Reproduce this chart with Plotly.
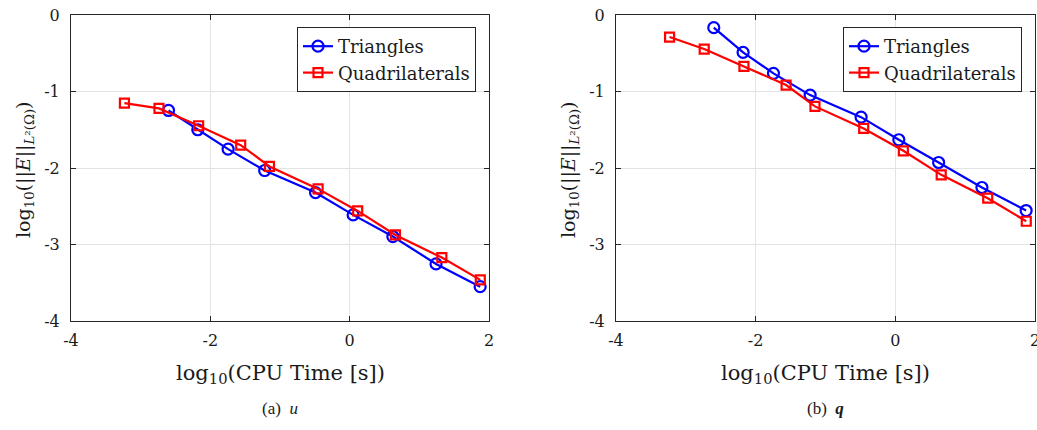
import plotly.graph_objects as go

# CPU times (log10 seconds)
tri_time = [-2.60, -2.18, -1.745, -1.22, -0.49, 0.05, 0.62, 1.24, 1.873]
quad_time = [-3.233, -2.737, -2.168, -1.564, -1.151, -0.453, 0.115, 0.657, 1.323, 1.875]

# (a) u errors
tri_err_u = [-1.248, -1.50, -1.754, -2.033, -2.321, -2.613, -2.896, -3.254, -3.551]
quad_err_u = [-1.152, -1.221, -1.448, -1.701, -1.980, -2.273, -2.561, -2.875, -3.171, -3.463]

# (b) q errors
tri_err_q = [-0.166, -0.489, -0.763, -1.047, -1.335, -1.631, -1.928, -2.255, -2.556]
quad_err_q = [-0.288, -0.445, -0.672, -0.916, -1.195, -1.483, -1.775, -2.089, -2.395, -2.696]

x_ticks = [-4, -2, 0, 2]
x_ticktext = ["-4", "-2", "0", "2"]
y_ticks = [-4, -3, -2, -1, 0]
y_ticktext = ["-4", "-3", "-2", "-1", "0"]

series_names = ["Triangles", "Quadrilaterals"]
captions = ["(a)  <i>u</i>", "(b)  <b><i>q</i></b>"]

W, H = 1037, 430
FONT = "DejaVu Serif, Liberation Serif, serif"
CAPFONT = "Liberation Serif, Times New Roman, serif"
TXT = "#1a1a1a"
BLUE = "#0000ff"
RED = "#ff0000"
AX = "#262626"

fig = go.Figure()

panels = [
    ("x", "y", "legend", tri_err_u, quad_err_u),
    ("x2", "y2", "legend2", tri_err_q, quad_err_q),
]
for xa, ya, lg, te, qe in panels:
    fig.add_trace(go.Scatter(
        x=tri_time, y=te, mode="lines+markers", name=series_names[0],
        xaxis=xa, yaxis=ya, legend=lg,
        line=dict(color=BLUE, width=2.2),
        marker=dict(symbol="circle-open", size=11, color=BLUE, line=dict(width=2.2, color=BLUE)),
    ))
    fig.add_trace(go.Scatter(
        x=quad_time, y=qe, mode="lines+markers", name=series_names[1],
        xaxis=xa, yaxis=ya, legend=lg,
        line=dict(color=RED, width=2.2),
        marker=dict(symbol="square-open", size=9, color=RED, line=dict(width=2.2, color=RED)),
    ))

# axis box geometry (pixels)
left_px = [(71, 489), (616, 1035)]
ytitle_x = [24, 569]
top_px, bot_px = 15, 321
ydom = [1 - bot_px / H, 1 - top_px / H]

common = dict(showgrid=True, gridcolor="#e3e3e3", gridwidth=1, zeroline=False, showline=True,
              linecolor=AX, linewidth=1, mirror="ticks", ticks="inside", ticklen=5,
              tickcolor=AX, tickfont=dict(family=FONT, size=16, color=TXT),
              automargin=False, ticklabeloverflow="allow")
common_x = dict(range=[-4, 2], tickvals=x_ticks, ticktext=x_ticktext, ticklabelstandoff=5, **common)
common_y = dict(range=[-4, 0], tickvals=y_ticks, ticktext=y_ticktext, ticklabelstandoff=7, **common)

fig.update_layout(
    xaxis=dict(domain=[left_px[0][0] / W, left_px[0][1] / W], anchor="y", **common_x),
    yaxis=dict(domain=ydom, anchor="x", **common_y),
    xaxis2=dict(domain=[left_px[1][0] / W, left_px[1][1] / W], anchor="y2", **common_x),
    yaxis2=dict(domain=ydom, anchor="x2", **common_y),
)

legend_style = dict(bgcolor="white", bordercolor=AX, borderwidth=1,
                    font=dict(family=FONT, size=18, color=TXT),
                    xanchor="right", yanchor="top", tracegroupgap=0,
                    itemwidth=30)
fig.update_layout(
    legend=dict(x=476 / W, y=1 - 27 / H, **legend_style),
    legend2=dict(x=1022 / W, y=1 - 27 / H, **legend_style),
)

ytitle = "log<sub>10</sub>(||<i>E</i>||<sub><i>L</i>²(Ω)</sub>)"
xtitle = "log<sub>10</sub>(CPU Time [s])"
annots = []
for i, (l, r) in enumerate(left_px):
    cx = (l + r) / 2 / W
    annots.append(dict(text=xtitle, x=cx, y=1 - 374 / H, xref="paper", yref="paper",
                       showarrow=False, font=dict(family=FONT, size=21, color=TXT),
                       xanchor="center", yanchor="middle"))
    annots.append(dict(text=captions[i], x=cx, y=1 - 408 / H, xref="paper", yref="paper",
                       showarrow=False, font=dict(family=CAPFONT, size=17, color=TXT),
                       xanchor="center", yanchor="middle"))
    annots.append(dict(text=ytitle, x=ytitle_x[i] / W, y=1 - 170 / H, xref="paper", yref="paper",
                       showarrow=False, textangle=-90, font=dict(family=FONT, size=19, color=TXT),
                       xanchor="center", yanchor="middle"))

fig.update_layout(
    annotations=annots,
    width=W, height=H,
    margin=dict(l=0, r=0, t=0, b=0),
    paper_bgcolor="white", plot_bgcolor="white",
    showlegend=True,
)

fig.write_html(
    "out.html",
    config={"displayModeBar": False},
    post_script="document.body.style.margin='0';document.body.style.padding='0';"
                "document.body.style.overflow='hidden';"
                "document.documentElement.style.overflow='hidden';",
)
